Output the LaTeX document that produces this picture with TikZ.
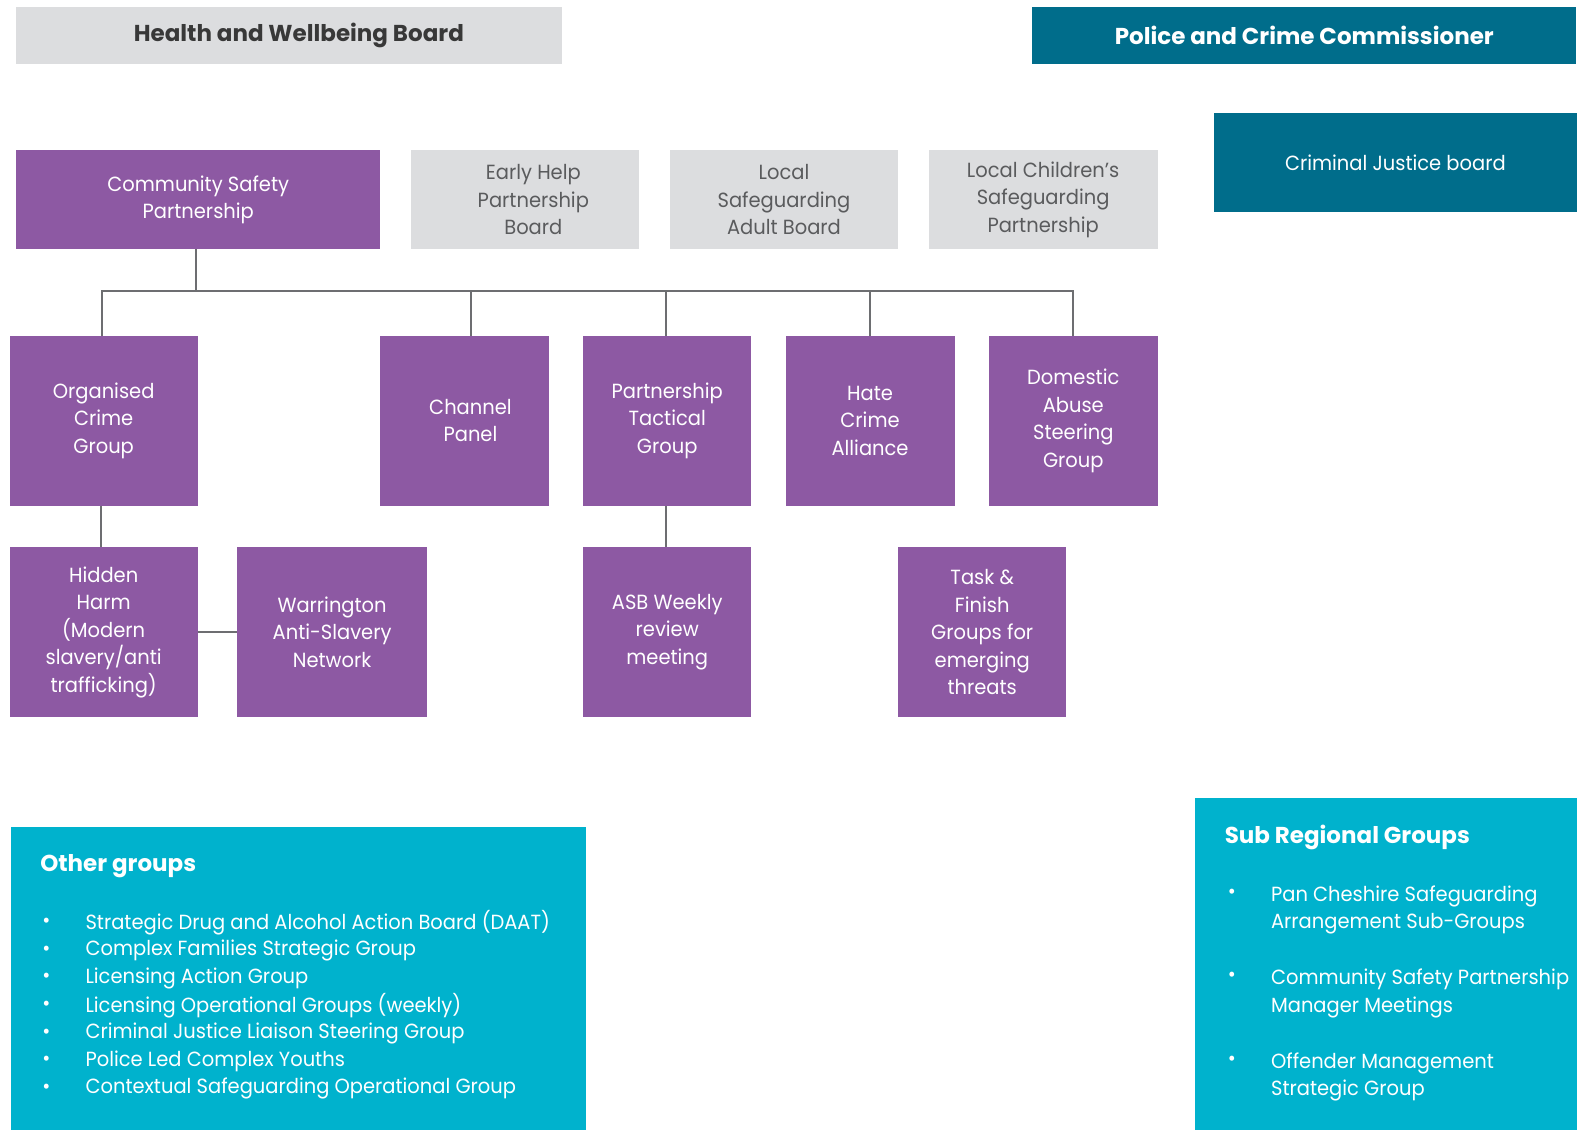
\documentclass[tikz,border=0pt]{standalone}
\usepackage{fontspec}
\setmainfont{Poppins}[FakeStretch=0.95]
\newfontfamily\headfont{Poppins}[FakeStretch=1.0]
\definecolor{purp}{HTML}{8D59A3}
\definecolor{lgray}{HTML}{DCDDDF}
\definecolor{teal}{HTML}{006D8B}
\definecolor{cyanbox}{HTML}{00B2CD}
\definecolor{dtext}{HTML}{5A5B5D}
\definecolor{linegray}{HTML}{6D6E71}
\begin{document}
\begin{tikzpicture}[x=1.0064pt,y=-1.0064pt,
  every node/.style={inner sep=0pt,outer sep=0pt,font=\fontsize{20.5}{27.5}\selectfont,align=center},
  pbox/.style={fill=purp,text=white},
  gbox/.style={fill=lgray,text=dtext},
  tbox/.style={fill=teal,text=white},
  cbox/.style={fill=cyanbox},
  conn/.style={draw=linegray,line width=2pt},
  head/.style={font=\headfont\fontsize{23}{27}\selectfont\bfseries},
  itm/.style={text=white,anchor=west,align=left},
  blt/.style={text=white,anchor=center}]
\useasboundingbox (0,0) rectangle (1568,1124);
\fill[white] (0,0) rectangle (1568,1124);
% top row
\node[gbox,minimum width=546,minimum height=57,head,text=black!78] (hwb) at (287,35.5) {\hspace*{20pt}Health and Wellbeing Board};
\node[tbox,minimum width=544,minimum height=57,head] (pcc) at (1296,35.5) {Police and Crime Commissioner};
\node[tbox,minimum width=363,minimum height=99] (cjb) at (1386.5,161.5) {Criminal Justice board};
% second row
\node[pbox,minimum width=364,minimum height=99] (csp) at (197,198.5) {Community Safety\\Partnership};
\node[gbox,minimum width=228,minimum height=99] (ehp) at (522,198.5) {\hspace*{16pt}Early Help\\\hspace*{16pt}Partnership\\\hspace*{16pt}Board};
\node[gbox,minimum width=228,minimum height=99] (lsab) at (779,198.5) {Local\\Safeguarding\\Adult Board};
\node[gbox,minimum width=229,minimum height=99] (lcsp) at (1036.5,198.5) {Local Children’s\\Safeguarding\\Partnership};
% third row
\node[pbox,minimum width=188,minimum height=170] (ocg) at (103,418) {Organised\\Crime\\Group};
\node[pbox,minimum width=169,minimum height=170] (chan) at (461.5,418) {\hspace*{12pt}Channel\\\hspace*{12pt}Panel};
\node[pbox,minimum width=168,minimum height=170] (ptg) at (663,418) {Partnership\\Tactical\\Group};
\node[pbox,minimum width=169,minimum height=170] (hca) at (864.5,418) {Hate\\Crime\\Alliance};
\node[pbox,minimum width=169,minimum height=170] (dasg) at (1066.5,418) {Domestic\\Abuse\\Steering\\Group};
% fourth row
\node[pbox,minimum width=188,minimum height=170] (hh) at (103,628) {Hidden\\Harm\\(Modern\\slavery/anti\\trafficking)};
\node[pbox,minimum width=190,minimum height=170] (wasn) at (330,628) {Warrington\\Anti-Slavery\\Network};
\node[pbox,minimum width=168,minimum height=170] (asb) at (663,628) {ASB Weekly\\review\\meeting};
\node[pbox,minimum width=168,minimum height=170] (tf) at (976,628) {Task \&\\Finish\\Groups for\\emerging\\threats};
% connectors
\coordinate (bus) at (195,289);
\draw[conn] (csp.south -| bus) -- (bus);
\draw[conn] ([xshift=-2pt]ocg.north) |- (bus) -| ([xshift=-0.5pt]dasg.north);
\draw[conn] ([xshift=6.5pt]chan.north) -- ([xshift=6.5pt]chan.north |- bus);
\draw[conn] ([xshift=-1pt]ptg.north) -- ([xshift=-1pt]ptg.north |- bus);
\draw[conn] ([xshift=-0.5pt]hca.north) -- ([xshift=-0.5pt]hca.north |- bus);
\draw[conn] ([xshift=-3pt]ocg.south) -- ([xshift=-3pt]hh.north);
\draw[conn] (hh.east) -- (wasn.west);
\draw[conn] ([xshift=-1pt]ptg.south) -- ([xshift=-1pt]asb.north);
% other groups
\node[cbox,minimum width=575,minimum height=303] (og) at (296.5,972.5) {};
\node[head,text=white,anchor=west] (ogh) at (40,861) {Other groups};
\foreach \t [count=\i] in {Strategic Drug and Alcohol Action Board (DAAT),Complex Families Strategic Group,Licensing Action Group,Licensing Operational Groups (weekly),Criminal Justice Liaison Steering Group,Police Led Complex Youths,Contextual Safeguarding Operational Group}{
  \node[blt] (ogb\i) at (46,{889.5+27.5*\i}) {•};
  \node[itm] (ogi\i) at (85,{889.5+27.5*\i}) {\t};
}
% sub regional groups
\node[cbox,minimum width=382,minimum height=332] (srg) at (1377,958) {};
\node[head,text=white,anchor=west] (srgh) at (1217,832) {Sub Regional Groups};
\node[blt] (srb1) at (1224,888) {•};
\node[itm,anchor=north west] (sri1) at (1263,880) {Pan Cheshire Safeguarding\\Arrangement Sub-Groups};
\node[blt] (srb2) at (1224,971) {•};
\node[itm,anchor=north west] (sri2) at (1263,963) {Community Safety Partnership\\Manager Meetings};
\node[blt] (srb3) at (1224,1054) {•};
\node[itm,anchor=north west] (sri3) at (1263,1046) {Offender Management\\Strategic Group};
\end{tikzpicture}
\end{document}
